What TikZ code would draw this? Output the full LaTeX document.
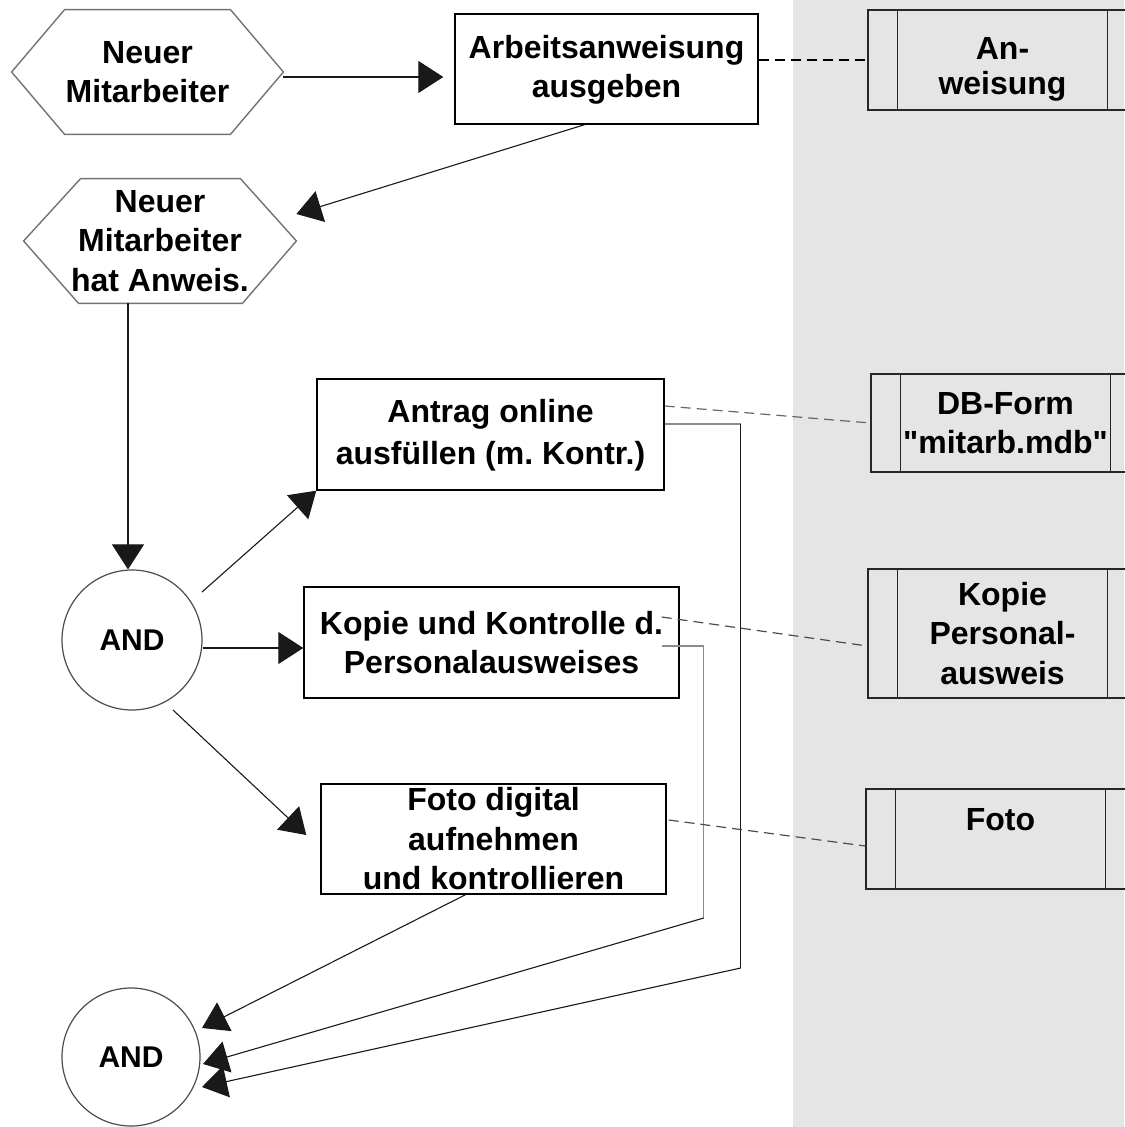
\documentclass[tikz,border=0pt]{standalone}
\usepackage{fontspec}
\setmainfont{Liberation Sans}[Ligatures=TeXOff]
\usetikzlibrary{arrows.meta,calc}
\frenchspacing
\begin{document}
\begin{tikzpicture}[x=0.5pt,y=-0.5pt,
  txt/.style={font=\fontsize{16}{19.75}\selectfont\bfseries\frenchspacing, align=center, inner sep=0pt},
  fbox/.style={txt, rectangle, draw=black, line width=0.7pt},
  hexn/.style={txt, rectangle, draw=none},
  hexline/.style={draw=black!55, line width=0.7pt},
  andn/.style={circle, draw=black!70, line width=0.6pt, inner sep=0pt, font=\fontsize{15}{18}\selectfont\bfseries},
  store/.style={txt, rectangle, draw=black!85, line width=0.7pt},
  storeline/.style={draw=black!85, line width=0.7pt},
  conn/.style={line width=0.55pt, draw=black!90},
  gconn/.style={line width=0.7pt, draw=black!45},
  arr/.style={conn, -{Triangle[length=12.5pt,width=16pt]}},
  dline/.style={line width=0.6pt, dash pattern=on 5pt off 3pt},
]
\useasboundingbox (0,0) rectangle (1124,1127);
\fill[black!10] (793,0) rectangle (1124,1127);

% left column nodes
\node[hexn, minimum width=135.5pt, minimum height=62pt, yshift=-1pt] (h1) at (147.5,70) {Neuer\\Mitarbeiter};
\draw[hexline] (h1.west) -- ($(h1.north west)+(53,0)$) -- ($(h1.north east)+(-53,0)$) -- (h1.east) -- ($(h1.south east)+(-53,0)$) -- ($(h1.south west)+(53,0)$) -- cycle;

\node[hexn, minimum width=136pt, minimum height=62pt] (h2) at (160,241) {Neuer\\Mitarbeiter\\hat Anweis.};
\draw[hexline] (h2.west) -- ($(h2.north west)+(57,0)$) -- ($(h2.north east)+(-56,0)$) -- (h2.east) -- ($(h2.south east)+(-54,0)$) -- ($(h2.south west)+(55,0)$) -- cycle;

\node[fbox, minimum width=151.5pt, minimum height=55pt, text depth=2.5pt] (arb) at (606.5,69) {Arbeitsanweisung\\ausgeben};
\node[fbox, minimum width=173.5pt, minimum height=55.5pt, text depth=2.5pt] (antrag) at (490.5,434.5) {Antrag online\\[1pt]ausfüllen (m. Kontr.)};
\node[fbox, minimum width=187.5pt, minimum height=55.5pt] (kopie) at (491.5,642.5) {Kopie und Kontrolle d.\\Personalausweises};
\node[fbox, minimum width=172.5pt, minimum height=55pt] (foto) at (493.5,839) {Foto digital\\aufnehmen\\und kontrollieren};

\node[andn, minimum size=70pt] (and1) at (132,640) {AND};
\node[andn, minimum size=69pt] (and2) at (131,1057) {AND};

% data stores on the grey band
\node[store, minimum width=134.5pt, minimum height=50pt,
  label={[txt, font=\fontsize{16}{17.5}\selectfont\bfseries, yshift=-4.5pt]center:{An-\\weisung}}] (anw) at (1002.5,60) {};
\node[store, minimum width=134.5pt, minimum height=49pt] (db) at (1005.5,423) {DB-Form\\"mitarb.mdb"};
\node[store, minimum width=134.5pt, minimum height=64.5pt] (kp) at (1002.5,633.5) {Kopie\\Personal-\\ausweis};
\node[store, minimum width=134.5pt, minimum height=50pt] (ft) at (1000.5,839) {Foto\\~};
\foreach \s in {anw,db,kp,ft}{
  \draw[storeline] ([xshift=15pt]\s.north west) -- ([xshift=15pt]\s.south west);
  \draw[storeline] ([xshift=-15pt]\s.north east) -- ([xshift=-15pt]\s.south east);
}

% control flow
\coordinate (p1) at ($(h1.east)+(0,5)$);
\draw[arr, shorten >=5.5pt] (p1) -- (p1 -| arb.west);
\draw[arr] ([xshift=-11pt]arb.south) -- ([yshift=13.5pt]h2.east);
\coordinate (a1n) at ([xshift=-2pt]and1.north);
\draw[arr] (h2.south -| a1n) -- (a1n);
\draw[arr] ($(and1.center)+(70,-48)$) -- (antrag.south west);
\coordinate (a1e) at ([yshift=-4pt]and1.east);
\draw[arr] (a1e) -- (a1e -| kopie.west);
\draw[arr] ($(and1.center)+(41,70)$) -- ($(foto.west)+(-14,-4)$);

\draw[arr] ([xshift=-14pt]foto.south) -- ($(and2.center)+(71,-29)$);

\coordinate (k1) at ($(kopie.east)+(-18,3.5)$);
\coordinate (k2) at ($(k1)+(42,0)$);
\coordinate (k3) at ($(k2)+(0,272)$);
\draw[gconn] (k1) -- (k2) -- (k3);
\draw[arr] (k3) -- ($(and2.center)+(72,7)$);

\coordinate (q1) at ($(antrag.east)+(0,-10.5)$);
\coordinate (q2) at ($(q1)+(76,0)$);
\coordinate (q3) at ($(q2)+(0,544)$);
\draw[gconn] (q1) -- (q2);
\draw[conn] (q2) -- (q3);
\draw[arr] (q3) -- ($(and2.center)+(71,30)$);

% information links
\draw[dline, black] (arb.east |- anw.west) -- (anw.west);
\draw[dline, black!60] ($(antrag.east)+(0,-28.5)$) -- (db.west);
\draw[dline, black!70] ($(kopie.east)+(-18,-25.5)$) -- ($(kp.west)+(0,12.5)$);
\draw[dline, black!70] ($(foto.east)+(2,-19)$) -- ($(ft.west)+(0,7)$);
\end{tikzpicture}
\end{document}
